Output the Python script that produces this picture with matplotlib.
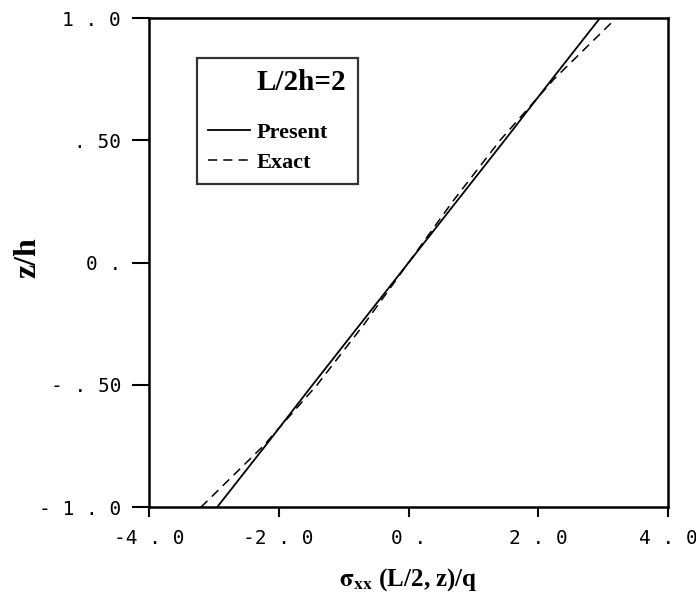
import matplotlib
matplotlib.use("Agg")
import matplotlib.pyplot as plt

plt.rcParams["mathtext.fontset"] = "stix"

# values (z/h vs sigma_xx(L/2, z)/q)
z_vals = [-1.0, -0.75, -0.5, -0.25, 0.0, 0.25, 0.5, 0.75, 1.0]
present = [-2.95, -2.21, -1.48, -0.74, 0.0, 0.74, 1.48, 2.21, 2.95]
exact = [-3.20, -2.24, -1.41, -0.68, 0.0, 0.68, 1.41, 2.24, 3.20]

xticks = [-4.0, -2.0, 0.0, 2.0, 4.0]
xtick_labels = ["-4 . 0", "-2 . 0", "0 .", "2 . 0", "4 . 0"]
yticks = [-1.0, -0.5, 0.0, 0.5, 1.0]
ytick_labels = ["- 1 . 0", "- . 50", "0 .", ". 50", "1 . 0"]
legend_title = "L/2h=2"

fig = plt.figure(figsize=(6.96, 6.01), dpi=100)
ax = fig.add_axes([0.214, 0.156, 0.746, 0.814])

# invisible entry so the title lines up with the entry texts
h0, = ax.plot([], [], color="none", label=legend_title + "\n")
h1, = ax.plot(present, z_vals, color="black", lw=1.3, label="Present")
h2, = ax.plot(exact, z_vals, color="black", lw=1.1, dashes=(6, 4), label="Exact")

ax.set_xlim(-4, 4)
ax.set_ylim(-1, 1)
ax.set_xticks(xticks)
ax.set_xticklabels(xtick_labels)
ax.set_yticks(yticks)
ax.set_yticklabels(ytick_labels)

for s in ax.spines.values():
    s.set_linewidth(1.8)

ax.tick_params(axis="y", direction="out", length=12, width=1.5, pad=8)
ax.tick_params(axis="x", direction="out", length=7, width=1.5, pad=9)
for lab in ax.get_xticklabels() + ax.get_yticklabels():
    lab.set_family("DejaVu Sans Mono")
    lab.set_fontsize(14)

ax.set_xlabel(r"$\mathbf{\sigma_{xx}}$ (L/2, z)/q", family="Liberation Serif",
              fontsize=18, fontweight="bold")
ax.xaxis.set_label_coords(0.5, -0.12)
ax.set_ylabel("z/h", family="Liberation Serif", fontsize=23, fontweight="bold")
ax.yaxis.set_label_coords(-0.205, 0.51)

leg = ax.legend(handles=[h0, h1, h2], loc="upper left",
                bbox_to_anchor=(0.0925, 0.918), borderaxespad=0,
                fancybox=False, handlelength=1.9, handletextpad=0.3,
                prop={"family": "Liberation Serif", "weight": "bold", "size": 16},
                labelspacing=0.42, borderpad=0.5)
t0 = leg.get_texts()[0]
t0.set_fontsize(21)
t0.set_linespacing(0.5)
leg.get_frame().set_edgecolor("black")
leg.get_frame().set_linewidth(1.6)

fig.savefig("out.png", dpi=100)
